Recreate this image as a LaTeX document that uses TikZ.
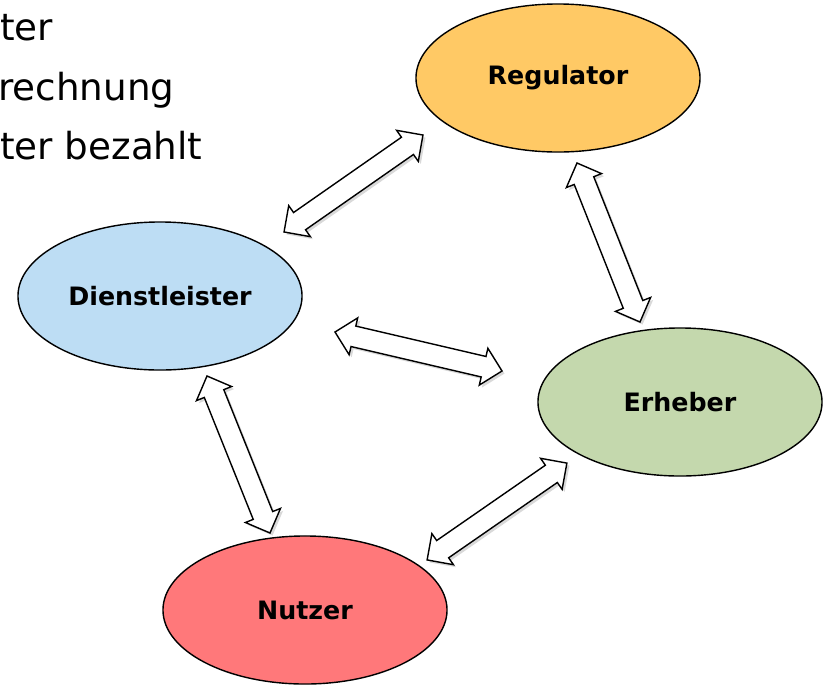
\documentclass[tikz,border=0pt]{standalone}
\usepackage{fontspec}
\setmainfont{DejaVu Sans}
\usetikzlibrary{shapes.geometric,shapes.arrows,shadows,calc}

\definecolor{regfarbe}{HTML}{FFC965}
\definecolor{dlfarbe}{HTML}{BDDDF4}
\definecolor{erhfarbe}{HTML}{C4D8AD}
\definecolor{nutfarbe}{HTML}{FF787A}

\tikzset{
  rolle/.style={ellipse, draw=black, line width=1pt, minimum width=7.1cm,
    minimum height=3.7cm, font=\fontsize{18}{21}\selectfont\bfseries},
  pfeil/.style={double arrow, draw=black, fill=white, line width=1pt,
    inner xsep=0pt, inner ysep=0.245cm, double arrow head extend=0.21cm,
    drop shadow={opacity=0.3, shadow xshift=1.8pt, shadow yshift=-1.8pt}},
  zeile/.style={anchor=base west, inner sep=0pt, font=\fontsize{26.5}{30}\selectfont}
}

% Doppelpfeil zwischen zwei benannten Punkten
\newcommand{\doppelpfeil}[2]{%
  \path let \p1=($(#2)-(#1)$), \n1={veclen(\x1,\y1)} in
    (#1) -- (#2) node[pfeil, midway, sloped, minimum height=\n1] {};}

\begin{document}
\begin{tikzpicture}[x=0.025cm, y=-0.025cm]
    \useasboundingbox (0,0) rectangle (829,686);

    %abgeschnittener Text oben links
    \node[zeile] (t1) at (0,40) {ter};
    \node[zeile] (t2) at (-2,100) {rechnung};
    \node[zeile] (t3) at (0,159) {ter bezahlt};

    %die vier Rollen
    \node[rolle, fill=regfarbe] (reg) at (558,78) {Regulator};
    \node[rolle, fill=dlfarbe] (dl) at (160,296) {Dienstleister};
    \node[rolle, fill=erhfarbe] (erh) at (680,402) {Erheber};
    \node[rolle, fill=nutfarbe] (nut) at (305,610) {Nutzer};

    %Spitzen der Pfeile
    \coordinate (dlreg1) at (284,232);
    \coordinate (dlreg2) at (423,135);
    \coordinate (regerh1) at (577,163);
    \coordinate (regerh2) at (640,322);
    \coordinate (dlerh1) at (335,332);
    \coordinate (dlerh2) at (502,371);
    \coordinate (nuterh1) at (427,560);
    \coordinate (nuterh2) at (567,463);
    \coordinate (dlnut1) at (207,376);
    \coordinate (dlnut2) at (270,533);

    \doppelpfeil{dlreg1}{dlreg2}
    \doppelpfeil{regerh1}{regerh2}
    \doppelpfeil{dlerh1}{dlerh2}
    \doppelpfeil{nuterh1}{nuterh2}
    \doppelpfeil{dlnut1}{dlnut2}
\end{tikzpicture}
\end{document}
